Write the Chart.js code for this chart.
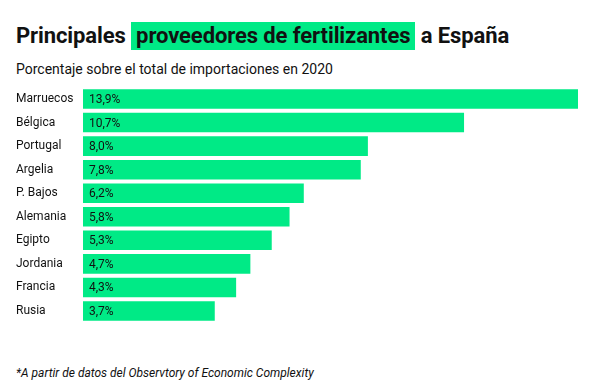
<!DOCTYPE html>
<html>
<head>
<meta charset="utf-8">
<script src="https://cdn.jsdelivr.net/npm/chart.js@4"></script>
<style>
  html, body { margin: 0; padding: 0; background: #fff; }
  body { width: 596px; height: 388px; position: relative; overflow: hidden; font-family: Roboto, sans-serif; color: #111; }
  #title { position: absolute; left: 16px; top: 22px; font-size: 22px; font-weight: bold; line-height: 28px; white-space: nowrap; letter-spacing: -0.1px; }
  #title span { background: #00ea86; padding: 0 5px 0 5px; display: inline-block; }
  #subtitle { position: absolute; left: 16px; top: 61px; font-size: 14px; line-height: 17px; white-space: nowrap; }
  #note { position: absolute; left: 16px; top: 366px; font-size: 12px; font-style: italic; line-height: 14px; white-space: nowrap; }
  #wrap { position: absolute; left: 0; top: 80px; width: 596px; height: 250px; }
</style>
</head>
<body>
<div id="title">Principales <span>proveedores de fertilizantes</span> a España</div>
<div id="subtitle">Porcentaje sobre el total de importaciones en 2020</div>
<div id="wrap"><canvas id="chart"></canvas></div>
<div id="note">*A partir de datos del Observtory of Economic Complexity</div>
<script>
const countries = ['Marruecos', 'Bélgica', 'Portugal', 'Argelia', 'P. Bajos', 'Alemania', 'Egipto', 'Jordania', 'Francia', 'Rusia'];
const shares = [13.9, 10.7, 8.0, 7.8, 6.2, 5.8, 5.3, 4.7, 4.3, 3.7];

const barColor = '#00ea86';

// writes the value at the start of each bar
const valueLabels = {
    id: 'valueLabels',
    afterDatasetsDraw(chart) {
        const ctx = chart.ctx;
        const meta = chart.getDatasetMeta(0);
        ctx.save();
        ctx.font = '12px Roboto';
        ctx.fillStyle = '#111';
        ctx.textBaseline = 'middle';
        ctx.textAlign = 'left';
        meta.data.forEach((bar, i) => {
            const txt = shares[i].toFixed(1).replace('.', ',') + '%';
            ctx.fillText(txt, bar.base + 6, bar.y + 1);
        });
        ctx.restore();
    }
};

new Chart(document.getElementById('chart').getContext('2d'), {
    type: 'bar',
    data: {
        labels: countries,
        datasets: [{
            data: shares,
            backgroundColor: barColor,
            borderWidth: 0,
            barPercentage: 0.83,
            categoryPercentage: 1
        }]
    },
    options: {
        indexAxis: 'y',
        responsive: true,
        maintainAspectRatio: false,
        animation: false,
        layout: { padding: { left: 16, right: 18, top: 5, bottom: 5 } },
        scales: {
            x: {
                display: false,
                min: 0,
                max: 13.9
            },
            y: {
                grid: { display: false },
                border: { display: false },
                ticks: {
                    crossAlign: 'far',
                    color: '#111',
                    font: { family: 'Roboto', size: 12 },
                    padding: 0
                },
                afterFit(scale) { scale.width = 67; }
            }
        },
        plugins: {
            legend: { display: false },
            tooltip: { enabled: false }
        }
    },
    plugins: [valueLabels]
});
</script>
</body>
</html>
